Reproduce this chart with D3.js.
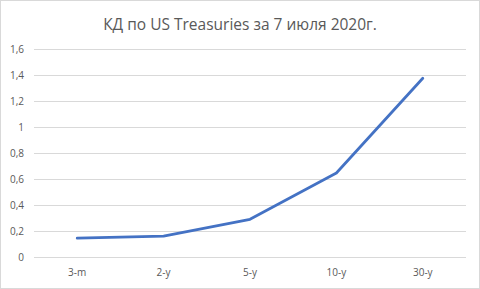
<!DOCTYPE html>
<html><head><meta charset="utf-8">
<script src="https://cdn.jsdelivr.net/npm/d3@7"></script>
<style>body{margin:0;background:#fff}svg{display:block}</style>
</head><body>
<script>
const categories = ["3-m", "2-y", "5-y", "10-y", "30-y"];
const values = [0.145, 0.16, 0.29, 0.646, 1.375];
const yTicks = [0, 0.2, 0.4, 0.6, 0.8, 1, 1.2, 1.4, 1.6];
const title = "КД по US Treasuries за 7 июля 2020г.";

const W = 480, H = 289;
const svg = d3.select("body").append("svg").attr("width", W).attr("height", H);
svg.append("rect").attr("x", 0.5).attr("y", 0.5).attr("width", W - 1).attr("height", H - 1)
  .attr("fill", "#fff").attr("stroke", "#d9d9d9");

const x = d3.scaleBand().domain(categories).range([34, 466]);
const y = d3.scaleLinear().domain([0, 1.6]).range([257, 49]);
const font = "Open Sans, Noto Sans, sans-serif";

svg.append("text").attr("x", 240).attr("y", 30).attr("text-anchor", "middle")
  .attr("font-family", font).attr("font-size", 15.5).attr("fill", "#595959").text(title);

const g = svg.append("g");
g.selectAll("line.grid").data(yTicks).join("line")
  .attr("x1", 34).attr("x2", 466)
  .attr("y1", d => Math.round(y(d)) + 0.5).attr("y2", d => Math.round(y(d)) + 0.5)
  .attr("stroke", "#d9d9d9").attr("stroke-width", 1);

const fmt = d => String(d).replace(".", ",");
g.selectAll("text.yl").data(yTicks).join("text")
  .attr("x", 24).attr("y", d => y(d) + 3.5).attr("text-anchor", "end")
  .attr("font-family", font).attr("font-size", 10).attr("fill", "#595959").text(fmt);

g.selectAll("text.xl").data(categories).join("text")
  .attr("x", d => x(d) + x.bandwidth() / 2).attr("y", 276).attr("text-anchor", "middle")
  .attr("font-family", font).attr("font-size", 10).attr("fill", "#595959").text(d => d);

const line = d3.line().x((d, i) => x(categories[i]) + x.bandwidth() / 2).y(d => y(d));
svg.append("path").datum(values).attr("d", line).attr("fill", "none")
  .attr("stroke", "#4472C4").attr("stroke-width", 2.75)
  .attr("stroke-linejoin", "round").attr("stroke-linecap", "round");
</script>
</body></html>
